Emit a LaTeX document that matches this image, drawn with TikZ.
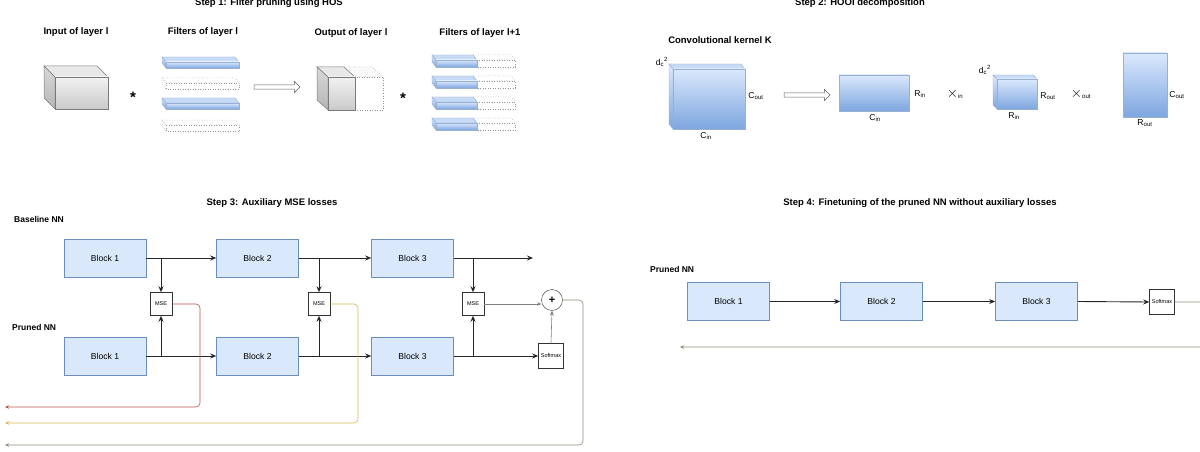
\documentclass[tikz,border=0pt]{standalone}
\usepackage{fontspec}
\setmainfont{Liberation Sans}
\usepackage{tikz}
\usetikzlibrary{positioning,calc,arrows.meta,shapes.arrows,shapes.geometric}
\definecolor{blockfill}{HTML}{DAE8FC}
\definecolor{blockdraw}{HTML}{6C8EBF}
\definecolor{bluedark}{HTML}{7EA6E0}
\definecolor{cubedraw}{HTML}{7A7A7A}
\definecolor{lossred}{HTML}{B85450}
\definecolor{lossyellow}{HTML}{D6B656}
\definecolor{lossolive}{HTML}{8C8C78}
\definecolor{lossgreen}{HTML}{6D8F5A}
\newcommand{\StepFont}{\fontsize{9.5pt}{11pt}\selectfont\bfseries}
\newcommand{\BlockFont}{\fontsize{8.6pt}{10pt}\selectfont}
\newcommand{\TinyFont}{\fontsize{5.5pt}{6pt}\selectfont}
\tikzset{
  steptitle/.style={font=\StepFont, inner sep=0pt, anchor=base},
  netlabel/.style={font=\fontsize{8.5pt}{10pt}\selectfont\bfseries,
    anchor=base west, inner sep=0pt},
  nnblock/.style={draw=blockdraw, fill=blockfill, line width=0.6pt,
    minimum width=82pt, minimum height=38pt, font=\BlockFont},
  lossbox/.style={draw=black!80, fill=white, line width=0.5pt,
    minimum width=22pt, minimum height=23pt, inner sep=0pt, font=\TinyFont},
  softbox/.style={lossbox, minimum width=25pt, minimum height=25pt},
  sumnode/.style={draw=black!80, fill=white, circle, minimum size=21pt,
    inner sep=0pt, font=\fontsize{11pt}{11pt}\selectfont\bfseries},
  flow/.style={-{Stealth[length=6pt,width=5pt]}, line width=0.9pt, draw=black!85},
  lossflow/.style={-{Stealth[length=4pt,width=3.5pt]}, line width=0.6pt,
    rounded corners=4pt},
  bluegrad/.style={draw=blockdraw!70, top color=blockfill, bottom color=bluedark,
    line width=0.4pt},
  bluetop/.style={draw=blockdraw!70, fill=blockfill!80!bluedark, line width=0.4pt},
  graygrad/.style={draw=cubedraw, top color=gray!10, bottom color=gray!42,
    line width=0.5pt},
  grayside/.style={draw=cubedraw, top color=gray!30, bottom color=gray!58,
    line width=0.5pt},
  graytop/.style={draw=cubedraw, fill=gray!18, line width=0.5pt},
  ghost/.style={draw=gray!85, dotted, fill=white, line width=0.5pt},
  hollow arrow/.style={single arrow, draw=gray!75!black, fill=white,
    minimum height=46pt, single arrow head extend=3.5pt, inner sep=1.8pt,
    line width=0.5pt},
  dimlabel/.style={font=\BlockFont, inner sep=0pt},
  opsign/.style={font=\fontsize{15pt}{15pt}\selectfont\bfseries, inner sep=0pt}
}

\begin{document}
\begin{tikzpicture}[x=1pt,y=-1pt]
\useasboundingbox (0,0) rectangle (1200,452);

% ---- Step 1 ----
\node[steptitle] (title1) at (269,6) {Step 1: Filter pruning using HOS};
\node[steptitle] (inlabel) at (76,35) {Input of layer l};
\node[steptitle] (filtlabel) at (203,35) {Filters of layer l};
\node[steptitle] (outlabel) at (351,36) {Output of layer l};
\node[steptitle] (nextlabel) at (480,36) {Filters of layer l+1};

% input cube
\path[graytop] (44,66) -- (97,66) -- (108,77) -- (55,77) -- cycle;
\path[grayside] (44,66) -- (55,77) -- (55,109) -- (44,98) -- cycle;
\path[graygrad] (55,77) rectangle (108,109);
\node[opsign] (star1) at (133,97) {*};

\foreach \y/\kind/\topkind in {57/bluegrad/bluetop,78/ghost/ghost,98/bluegrad/bluetop,120/ghost/ghost} {
  \path[\topkind] (162,\y) -- (235,\y) -- (239,\y+5) -- (166,\y+5) -- cycle;
  \path[\kind] (162,\y) -- (166,\y+5) -- (166,\y+11) -- (162,\y+6) -- cycle;
  \path[\kind] (166,\y+5) rectangle (239,\y+11);
}

\node[hollow arrow] (prune) at (276,87) {};

% output cube, pruned half dotted
\path[ghost, fill=gray!5] (344,67) -- (372,67) -- (383,77) -- (355,77) -- cycle;
\path[ghost] (355,77) rectangle (383,110);
\path[graytop] (317,67) -- (344,67) -- (355,77) -- (328,77) -- cycle;
\path[grayside] (317,67) -- (328,77) -- (328,110) -- (317,100) -- cycle;
\path[graygrad] (328,77) rectangle (355,110);
\node[opsign] (star2) at (403,98) {*};

\foreach \y in {55,76,97,118} {
  \path[ghost] (473,\y) -- (511,\y) -- (515,\y+5) -- (477,\y+5) -- cycle;
  \path[ghost] (477,\y+5) rectangle (515,\y+12);
  \path[bluetop] (432,\y) -- (473,\y) -- (477,\y+5) -- (436,\y+5) -- cycle;
  \path[bluegrad] (432,\y) -- (436,\y+5) -- (436,\y+12) -- (432,\y+7) -- cycle;
  \path[bluegrad] (436,\y+5) rectangle (477,\y+12);
}

% ---- Step 2 ----
\node[steptitle] (title2) at (860,6) {Step 2: HOOI decomposition};
\node[steptitle] (kernlabel) at (720,44) {Convolutional kernel K};

\path[bluetop] (669,64) -- (741,64) -- (745,69) -- (673,69) -- cycle;
\path[bluegrad] (669,64) -- (673,69) -- (673,129) -- (669,124) -- cycle;
\path[bluegrad] (673,69) rectangle (745,129);
\node[dimlabel] (kd) at (662,62) {d\textsubscript{c}\textsuperscript{2}};
\node[dimlabel] (kcout) at (756,96) {C\textsubscript{out}};
\node[dimlabel] (kcin) at (706,136) {C\textsubscript{in}};

\node[hollow arrow] (hooi) at (806,95) {};

\path[bluegrad] (839,75) rectangle (909,111);
\node[dimlabel] (urin) at (920,94) {R\textsubscript{in}};
\node[dimlabel] (ucin) at (875,118) {C\textsubscript{in}};

\node[dimlabel] (xin) at (955,94) {{\fontsize{15pt}{15pt}\selectfont$\times$}\textsubscript{in}};

\path[bluetop] (993,75) -- (1033,75) -- (1037,79) -- (997,79) -- cycle;
\path[bluegrad] (993,75) -- (997,79) -- (997,109) -- (993,105) -- cycle;
\path[bluegrad] (997,79) rectangle (1037,109);
\node[dimlabel] (gd) at (985,70) {d\textsubscript{c}\textsuperscript{2}};
\node[dimlabel] (grout) at (1048,96) {R\textsubscript{out}};
\node[dimlabel] (grin) at (1014,116) {R\textsubscript{in}};

\node[dimlabel] (xout) at (1081,94) {{\fontsize{15pt}{15pt}\selectfont$\times$}\textsubscript{out}};

\path[bluegrad] (1123,53) rectangle (1167,117);
\node[dimlabel] (vcout) at (1177,95) {C\textsubscript{out}};
\node[dimlabel] (vrout) at (1145,123) {R\textsubscript{out}};

% ---- Step 3 ----
\node[steptitle] (title3) at (272,205) {Step 3: Auxiliary MSE losses};
\node[netlabel] (baselabel) at (14,222) {Baseline NN};
\node[netlabel] (prunedlabel) at (12,330) {Pruned NN};

\node[nnblock] (b1) at (105,258) {Block 1};
\node[nnblock] (b2) at (257.5,258) {Block 2};
\node[nnblock] (b3) at (412.5,258) {Block 3};
\node[nnblock] (p1) at (105,356) {Block 1};
\node[nnblock] (p2) at (257.5,356) {Block 2};
\node[nnblock] (p3) at (412.5,356) {Block 3};

\node[lossbox] (mse1) at (161,304) {MSE};
\node[lossbox] (mse2) at (319,304) {MSE};
\node[lossbox] (mse3) at (473,304) {MSE};
\node[sumnode] (plus) at (552,300) {+};
\node[softbox] (soft3) at (551,356) {Softmax};
\coordinate (baseout) at (533,258);

\draw[flow] (b1.east) -- (b2.west);
\draw[flow] (b2.east) -- (b3.west);
\draw[flow] (b3.east) -- (baseout);
\draw[flow] (p1.east) -- (p2.west);
\draw[flow] (p2.east) -- (p3.west);
\draw[flow] (p3.east) -- (soft3.west);
\foreach \m in {mse1,mse2,mse3} {
  \draw[flow] (\m |- b1.east) -- (\m.north);
  \draw[flow] (\m |- p1.east) -- (\m.south);
}
\draw[-{Stealth[length=5pt,width=4pt]}, line width=0.6pt, draw=gray] (soft3.north) -- (plus.south);
\draw[-{Stealth[length=4pt,width=3.5pt,fill=lossgreen]}, line width=0.5pt, draw=gray] (mse3.east) -- (mse3.east -| plus.west);

\coordinate (redend) at (5,407);
\coordinate (yellowend) at (5,423);
\coordinate (oliveend) at (5,445);
\draw[lossflow, draw=lossred] (mse1.east) -- (200,304) -- (200,407) -- (redend);
\draw[lossflow, draw=lossyellow] (mse2.east) -- (358,304) -- (358,423) -- (yellowend);
\draw[lossflow, draw=lossolive] (plus.east) -- (583,300) -- (583,445) -- (oliveend);

% ---- Step 4 ----
\node[steptitle] (title4) at (920,205) {Step 4: Finetuning of the pruned NN without auxiliary losses};
\node[netlabel] (prunedlabel4) at (650,272) {Pruned NN};

\node[nnblock] (q1) at (728.5,301.5) {Block 1};
\node[nnblock] (q2) at (881.5,301.5) {Block 2};
\node[nnblock] (q3) at (1036.5,301.5) {Block 3};
\node[softbox] (soft4) at (1162,302) {Softmax};
\coordinate (finalend) at (680,347);

\draw[flow] (q1.east) -- (q2.west);
\draw[flow] (q2.east) -- (q3.west);
\draw[flow] (q3.east) -- (soft4.west);
\draw[lossflow, draw=lossolive] (soft4.east) -- (1212,302) -- (1212,347) -- (finalend);
\end{tikzpicture}
\end{document}
